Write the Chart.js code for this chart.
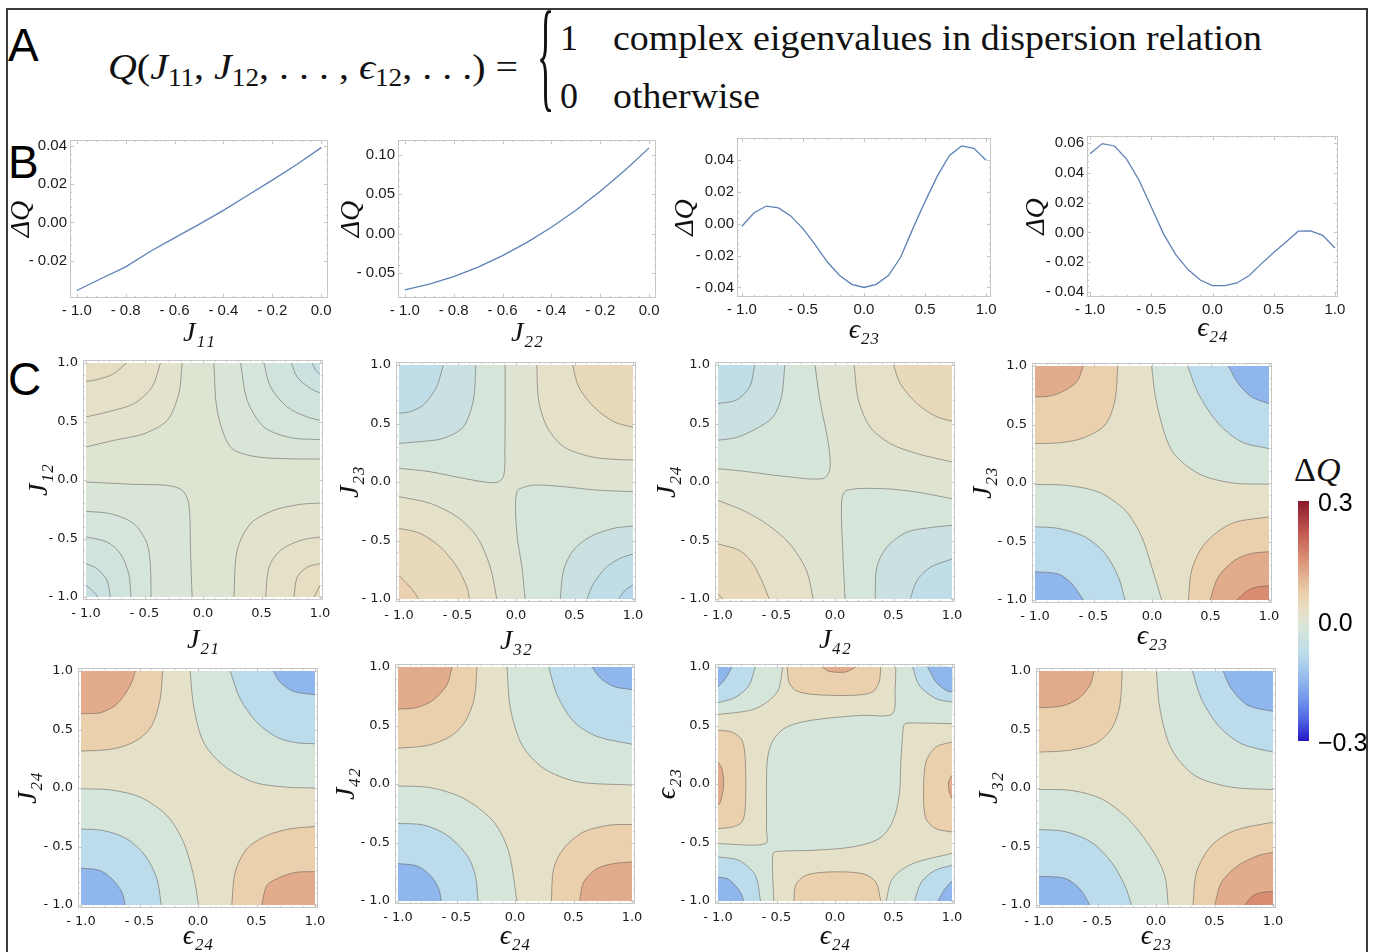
<!DOCTYPE html>
<html>
<head>
<meta charset="utf-8">
<title>Sensitivity of Q</title>
<script src="https://cdn.jsdelivr.net/npm/chart.js@4.4.1/dist/chart.umd.min.js"></script>
<style>
  html, body { margin: 0; padding: 0; background: #fff; }
  body { position: relative; width: 1378px; height: 952px; overflow: hidden; }
  canvas { position: absolute; }
  #frame { position: absolute; left: 6px; top: 8px; width: 1358px; height: 960px; border: 2px solid #3a3a3a; border-bottom: none; }
  .letter { position: absolute; font-family: "Liberation Sans", Arial, sans-serif; font-size: 46px; line-height: 1; color: #000; }
  .tex { position: absolute; font-family: "Liberation Serif", "DejaVu Serif", serif; font-size: 36px; line-height: 1; white-space: nowrap; color: #111; transform-origin: 0 0; }
  .tex sub { font-size: 0.68em; vertical-align: -0.28em; line-height: 0; }
</style>
</head>
<body>
<div id="frame"></div>
<div class="letter" style="left:8px;top:22px">A</div>
<div class="letter" style="left:8px;top:139px">B</div>
<div class="letter" style="left:8px;top:356px">C</div>
<div class="tex fit" data-w="410" style="left:108px;top:49px"><i>Q</i>(<i>J</i><sub>11</sub>, <i>J</i><sub>12</sub>, . . . , <i>ϵ</i><sub>12</sub>, . . .) =</div>
<div class="tex" style="left:537px;top:-6px;transform:scaleY(3.4)">{</div>
<div class="tex" style="left:560px;top:20px">1</div>
<div class="tex fit" data-w="649" style="left:613px;top:20px">complex eigenvalues in dispersion relation</div>
<div class="tex" style="left:560px;top:78px">0</div>
<div class="tex fit" data-w="147" style="left:613px;top:78px">otherwise</div>
<div class="tex" style="left:1294px;top:453px;font-size:34px">Δ<i>Q</i></div>

<script>
// ---------------- data: row B (one-parameter sweeps) ----------------
const J_HALF = [-1.0, -0.9, -0.8, -0.7, -0.6, -0.5, -0.4, -0.3, -0.2, -0.1, 0.0];
const EPS_FULL = [-1.0, -0.9, -0.8, -0.7, -0.6, -0.5, -0.4, -0.3, -0.2, -0.1, 0.0,
                  0.1, 0.2, 0.3, 0.4, 0.5, 0.6, 0.7, 0.8, 0.9, 1.0];
const DQ_J11 = [-0.0356, -0.0293, -0.0232, -0.0152, -0.0081, -0.0010, 0.0063, 0.0142, 0.0221, 0.0303, 0.0391];
const DQ_J22 = [-0.0716, -0.0643, -0.0546, -0.0425, -0.0280, -0.0111, 0.0081, 0.0297, 0.0538, 0.0802, 0.1090];
const DQ_E23 = [-0.0015, 0.0070, 0.0112, 0.0100, 0.0050, -0.0030, -0.0130, -0.0240, -0.0325, -0.0380, -0.0400,
                -0.0380, -0.0325, -0.0210, -0.0030, 0.0140, 0.0300, 0.0430, 0.0490, 0.0475, 0.0400];
const DQ_E24 = [0.0527, 0.0596, 0.0580, 0.0490, 0.0350, 0.0170, -0.0010, -0.0150, -0.0250, -0.0320, -0.0358,
                -0.0358, -0.0340, -0.0290, -0.0210, -0.0135, -0.0065, 0.0008, 0.0010, -0.0020, -0.0105];

const XTICKS_HALF = [-1.0, -0.8, -0.6, -0.4, -0.2, 0.0];
const XTICKS_FULL = [-1.0, -0.5, 0.0, 0.5, 1.0];
const YTICKS_J11 = [-0.02, 0.0, 0.02, 0.04];
const YTICKS_J22 = [-0.05, 0.0, 0.05, 0.10];
const YTICKS_E23 = [-0.04, -0.02, 0.0, 0.02, 0.04];
const YTICKS_E24 = [-0.04, -0.02, 0.0, 0.02, 0.04, 0.06];
const C_TICKS = [-1.0, -0.5, 0.0, 0.5, 1.0];
const CBAR_TICKS = [-0.3, 0.0, 0.3];

// ---------------- data: row C (contour lines) ----------------
// v = ΔQ level of the area on the corner / inner side of the contour
const C1_BASE = 0.003;
const C1_REGIONS = [
  {v: 0.012, corner: 'tl', pts: [[-1,0.282],[-0.763,0.339],[-0.506,0.395],[-0.307,0.509],[-0.207,0.737],[-0.178,1]]},
  {v: 0.022, corner: 'tl', pts: [[-1,0.539],[-0.82,0.581],[-0.592,0.652],[-0.435,0.795],[-0.364,1]]},
  {v: 0.032, corner: 'tl', pts: [[-1,0.843],[-0.907,0.857],[-0.764,0.908],[-0.655,1]]},
  {v: -0.012, corner: 'tr', pts: [[0.093,1],[0.121,0.595],[0.235,0.282],[0.435,0.202],[0.72,0.182],[1,0.179]]},
  {v: -0.022, corner: 'tr', pts: [[0.321,1],[0.378,0.681],[0.521,0.453],[0.749,0.362],[1,0.345]]},
  {v: -0.032, corner: 'tr', pts: [[0.521,1],[0.578,0.795],[0.72,0.624],[0.892,0.538],[1,0.51]]},
  {v: -0.042, corner: 'tr', pts: [[0.755,1],[0.806,0.88],[0.92,0.781],[1,0.744]]},
  {v: -0.052, corner: 'tr', pts: [[0.934,1],[0.963,0.937],[1,0.903]]},
  {v: -0.012, corner: 'bl', pts: [[-1,-0.017],[-0.592,-0.037],[-0.307,-0.046],[-0.178,-0.088],[-0.121,-0.202],[-0.107,-0.601],[-0.093,-1]]},
  {v: -0.022, corner: 'bl', pts: [[-1,-0.268],[-0.792,-0.288],[-0.592,-0.373],[-0.478,-0.544],[-0.449,-0.744],[-0.444,-1]]},
  {v: -0.032, corner: 'bl', pts: [[-1,-0.487],[-0.82,-0.53],[-0.706,-0.63],[-0.635,-0.801],[-0.615,-1]]},
  {v: -0.042, corner: 'bl', pts: [[-1,-0.715],[-0.906,-0.758],[-0.82,-0.858],[-0.792,-1]]},
  {v: -0.052, corner: 'bl', pts: [[-1,-0.9],[-0.934,-0.957],[-0.9,-1]]},
  {v: 0.012, corner: 'br', pts: [[0.264,-1],[0.292,-0.601],[0.407,-0.373],[0.606,-0.259],[0.834,-0.208],[1,-0.197]]},
  {v: 0.022, corner: 'br', pts: [[0.535,-1],[0.564,-0.744],[0.663,-0.601],[0.834,-0.516],[1,-0.487]]},
  {v: 0.032, corner: 'br', pts: [[0.777,-1],[0.806,-0.829],[0.892,-0.744],[1,-0.715]]},
  {v: 0.042, corner: 'br', pts: [[0.949,-1],[1,-0.9]]}
];

const C2_BASE = 0.005;
const C2_REGIONS = [
  {v: -0.02, corner: 'tl', pts: [[-1,0.117],[-0.735,0.088],[-0.449,0.031],[-0.178,-0.006],[-0.107,0.046],[-0.095,0.274],[-0.093,1]]},
  {v: -0.045, corner: 'tl', pts: [[-1,0.33],[-0.82,0.345],[-0.621,0.373],[-0.449,0.473],[-0.364,0.701],[-0.344,1]]},
  {v: -0.07, corner: 'tl', pts: [[-1,0.587],[-0.906,0.601],[-0.792,0.658],[-0.678,0.815],[-0.621,1]]},
  {v: -0.02, corner: 'br', pts: [[0.078,-1],[0.05,-0.724],[0.007,-0.439],[0.007,-0.083],[0.107,-0.034],[0.207,-0.026],[0.407,-0.04],[0.692,-0.069],[1,-0.083]]},
  {v: -0.045, corner: 'br', pts: [[0.378,-1],[0.407,-0.752],[0.492,-0.581],[0.635,-0.467],[0.834,-0.396],[1,-0.376]]},
  {v: -0.07, corner: 'br', pts: [[0.606,-1],[0.663,-0.866],[0.777,-0.724],[0.892,-0.652],[1,-0.615]]},
  {v: -0.09, corner: 'br', pts: [[0.877,-1],[0.934,-0.923],[1,-0.88]]},
  {v: 0.02, corner: 'tr', pts: [[0.178,1],[0.193,0.701],[0.264,0.473],[0.407,0.302],[0.635,0.217],[0.834,0.194],[1,0.188]]},
  {v: 0.045, corner: 'tr', pts: [[0.484,1],[0.535,0.815],[0.663,0.644],[0.834,0.516],[1,0.467]]},
  {v: 0.02, corner: 'bl', pts: [[-1,-0.125],[-0.735,-0.182],[-0.506,-0.296],[-0.335,-0.467],[-0.221,-0.724],[-0.164,-1]]},
  {v: 0.045, corner: 'bl', pts: [[-1,-0.396],[-0.82,-0.439],[-0.649,-0.553],[-0.506,-0.724],[-0.421,-0.895],[-0.398,-1]]},
  {v: 0.065, corner: 'bl', pts: [[-1,-0.801],[-0.934,-0.866],[-0.863,-0.952],[-0.835,-1]]}
];

const C3_BASE = 0.005;
const C3_REGIONS = [
  {v: -0.02, corner: 'tl', pts: [[-1,0.114],[-0.729,0.086],[-0.443,0.049],[-0.1,0.029],[-0.043,0.114],[-0.057,0.329],[-0.129,0.7],[-0.171,1]]},
  {v: -0.045, corner: 'tl', pts: [[-1,0.357],[-0.843,0.38],[-0.671,0.457],[-0.529,0.557],[-0.457,0.729],[-0.429,1]]},
  {v: -0.07, corner: 'tl', pts: [[-1,0.671],[-0.843,0.7],[-0.729,0.814],[-0.686,1]]},
  {v: -0.02, corner: 'br', pts: [[0.086,-1],[0.066,-0.586],[0.057,-0.157],[0.1,-0.071],[0.414,-0.057],[0.7,-0.086],[1,-0.143]]},
  {v: -0.045, corner: 'br', pts: [[0.343,-1],[0.357,-0.729],[0.443,-0.557],[0.614,-0.429],[0.843,-0.386],[1,-0.371]]},
  {v: -0.07, corner: 'br', pts: [[0.643,-1],[0.7,-0.843],[0.814,-0.729],[1,-0.657]]},
  {v: 0.02, corner: 'tr', pts: [[0.163,1],[0.2,0.7],[0.3,0.471],[0.471,0.329],[0.7,0.243],[1,0.171]]},
  {v: 0.045, corner: 'tr', pts: [[0.5,1],[0.557,0.843],[0.7,0.671],[0.871,0.557],[1,0.52]]},
  {v: 0.02, corner: 'bl', pts: [[-1,-0.157],[-0.786,-0.243],[-0.586,-0.357],[-0.386,-0.529],[-0.243,-0.757],[-0.186,-1]]},
  {v: 0.045, corner: 'bl', pts: [[-1,-0.529],[-0.814,-0.586],[-0.7,-0.7],[-0.614,-0.871],[-0.563,-1]]},
  {v: 0.065, corner: 'bl', pts: [[-1,-0.957],[-0.957,-1]]}
];

const C4_BASE = 0.02;
const C4_REGIONS = [
  {v: 0.07, corner: 'tl', pts: [[-1,0.337],[-0.801,0.343],[-0.601,0.38],[-0.402,0.494],[-0.316,0.707],[-0.293,1]]},
  {v: 0.12, corner: 'tl', pts: [[-1,0.735],[-0.886,0.741],[-0.772,0.778],[-0.644,0.863],[-0.587,1]]},
  {v: -0.02, corner: 'tr', pts: [[-0.003,1],[0.04,0.679],[0.168,0.28],[0.396,0.081],[0.681,0.001],[1,-0.01]]},
  {v: -0.08, corner: 'tr', pts: [[0.305,1],[0.396,0.764],[0.567,0.508],[0.766,0.351],[1,0.294]]},
  {v: -0.15, corner: 'tr', pts: [[0.652,1],[0.738,0.849],[0.852,0.735],[1,0.678]]},
  {v: -0.02, corner: 'bl', pts: [[-1,-0.013],[-0.744,-0.019],[-0.459,-0.076],[-0.231,-0.232],[-0.088,-0.46],[-0.003,-0.716],[0.083,-1]]},
  {v: -0.08, corner: 'bl', pts: [[-1,-0.374],[-0.801,-0.388],[-0.573,-0.46],[-0.402,-0.602],[-0.288,-0.801],[-0.231,-1]]},
  {v: -0.15, corner: 'bl', pts: [[-1,-0.758],[-0.801,-0.778],[-0.687,-0.858],[-0.587,-1]]},
  {v: 0.07, corner: 'br', pts: [[0.311,-1],[0.339,-0.744],[0.453,-0.516],[0.681,-0.346],[1,-0.289]]},
  {v: 0.12, corner: 'br', pts: [[0.496,-1],[0.567,-0.801],[0.709,-0.659],[0.852,-0.602],[1,-0.587]]},
  {v: 0.16, corner: 'br', pts: [[0.724,-1],[0.823,-0.915],[0.909,-0.886],[1,-0.88]]}
];

const C5_BASE = 0.02;
const C5_REGIONS = [
  {v: 0.07, corner: 'tl', pts: [[-1,0.315],[-0.721,0.335],[-0.522,0.407],[-0.394,0.535],[-0.323,0.763],[-0.303,1]]},
  {v: 0.12, corner: 'tl', pts: [[-1,0.635],[-0.835,0.643],[-0.707,0.706],[-0.622,0.806],[-0.565,0.906],[-0.536,1]]},
  {v: -0.02, corner: 'tr', pts: [[-0.067,1],[-0.038,0.706],[0.047,0.392],[0.218,0.193],[0.474,0.05],[0.758,0.007],[1,0]]},
  {v: -0.08, corner: 'tr', pts: [[0.275,1],[0.36,0.763],[0.502,0.563],[0.673,0.435],[0.844,0.387],[1,0.378]]},
  {v: -0.15, corner: 'tr', pts: [[0.644,1],[0.701,0.906],[0.815,0.826],[1,0.797]]},
  {v: -0.02, corner: 'bl', pts: [[-1,-0.007],[-0.75,-0.016],[-0.494,-0.078],[-0.266,-0.235],[-0.124,-0.463],[-0.038,-0.749],[0.004,-1]]},
  {v: -0.08, corner: 'bl', pts: [[-1,-0.35],[-0.807,-0.364],[-0.607,-0.435],[-0.451,-0.578],[-0.351,-0.777],[-0.314,-1]]},
  {v: -0.15, corner: 'bl', pts: [[-1,-0.684],[-0.835,-0.706],[-0.721,-0.792],[-0.65,-0.892],[-0.622,-1]]},
  {v: 0.07, corner: 'br', pts: [[0.289,-1],[0.317,-0.72],[0.417,-0.52],[0.588,-0.406],[0.787,-0.349],[1,-0.329]]},
  {v: 0.12, corner: 'br', pts: [[0.545,-1],[0.588,-0.834],[0.701,-0.763],[0.844,-0.72],[1,-0.715]]}
];

const C6_BASE = 0.02;
const C6_REGIONS = [
  {v: 0.07, corner: 'tl', pts: [[-1,0.306],[-0.752,0.329],[-0.553,0.406],[-0.425,0.534],[-0.348,0.734],[-0.325,1]]},
  {v: 0.12, corner: 'tl', pts: [[-1,0.64],[-0.838,0.654],[-0.695,0.72],[-0.581,0.849],[-0.538,1]]},
  {v: -0.02, corner: 'tr', pts: [[-0.068,1],[-0.04,0.649],[0.06,0.334],[0.245,0.134],[0.53,0.02],[1,-0.009]]},
  {v: -0.08, corner: 'tr', pts: [[0.288,1],[0.359,0.763],[0.501,0.534],[0.701,0.406],[1,0.34]]},
  {v: -0.15, corner: 'tr', pts: [[0.658,1],[0.729,0.906],[0.843,0.834],[1,0.806]]},
  {v: -0.02, corner: 'bl', pts: [[-1,-0.017],[-0.724,-0.031],[-0.439,-0.123],[-0.182,-0.323],[-0.054,-0.58],[0.017,-1]]},
  {v: -0.08, corner: 'bl', pts: [[-1,-0.337],[-0.781,-0.351],[-0.581,-0.437],[-0.41,-0.609],[-0.339,-0.78],[-0.316,-1]]},
  {v: -0.15, corner: 'bl', pts: [[-1,-0.68],[-0.838,-0.7],[-0.724,-0.78],[-0.652,-0.894],[-0.63,-1]]},
  {v: 0.07, corner: 'br', pts: [[0.311,-1],[0.33,-0.723],[0.416,-0.551],[0.587,-0.409],[0.815,-0.351],[1,-0.346]]},
  {v: 0.12, corner: 'br', pts: [[0.553,-1],[0.587,-0.837],[0.701,-0.723],[0.843,-0.68],[1,-0.666]]}
];

const C7_BASE = 0.02;
const C7_A = [[-1,-0.51],[-0.594,-0.51],[-0.586,-0.382],[-0.58,0.188],[-0.537,0.359],[-0.437,0.473],[-0.28,0.53],
              [-0.051,0.564],[0.234,0.587],[0.491,0.601],[0.514,0.815],[0.52,1]];
const C7_B = [[-0.523,-1],[-0.531,-0.595],[-0.48,-0.575],[-0.194,-0.567],[0.149,-0.538],[0.377,-0.467],[0.491,-0.325],
              [0.549,-0.097],[0.563,0.188],[0.583,0.473],[0.6,0.516],[0.72,0.521],[1,0.516]];
const C7_REGIONS = [
  {v: -0.02, pts: C7_A, band: C7_B},
  {pts: C7_B},
  {v: -0.02, corner: 'tl', pts: [[-1,0.593],[-0.68,0.644],[-0.494,0.786],[-0.446,1]]},
  {v: -0.02, corner: 'br', pts: [[0.437,-1],[0.491,-0.809],[0.663,-0.681],[1,-0.593]]},
  {v: -0.08, corner: 'tl', pts: [[-1,0.695],[-0.851,0.74],[-0.737,0.84],[-0.68,1]]},
  {v: -0.08, corner: 'tr', pts: [[0.663,1],[0.72,0.843],[0.863,0.729],[1,0.701]]},
  {v: -0.08, corner: 'bl', pts: [[-1,-0.624],[-0.823,-0.652],[-0.68,-0.781],[-0.637,-1]]},
  {v: -0.08, corner: 'br', pts: [[0.68,-1],[0.737,-0.84],[0.851,-0.74],[1,-0.695]]},
  {v: -0.15, corner: 'tl', pts: [[-1,0.829],[-0.937,0.9],[-0.88,1]]},
  {v: -0.15, corner: 'tr', pts: [[0.791,1],[0.863,0.872],[0.949,0.8],[1,0.786]]},
  {v: -0.15, corner: 'bl', pts: [[-1,-0.795],[-0.909,-0.815],[-0.809,-0.923],[-0.78,-1]]},
  {v: -0.15, corner: 'br', pts: [[0.88,-1],[0.937,-0.9],[1,-0.829]]},
  {v: 0.07, pts: [[-0.409,1],[-0.394,0.872],[-0.337,0.8],[-0.194,0.766],[0.149,0.758],[0.32,0.786],[0.377,0.872],[0.391,1]]},
  {v: 0.12, pts: [[-0.109,1],[-0.051,0.963],[0.091,0.957],[0.177,1]]},
  {v: 0.07, pts: [[-0.351,-1],[-0.337,-0.866],[-0.251,-0.781],[-0.051,-0.752],[0.234,-0.766],[0.349,-0.838],[0.391,-1]]},
  {v: 0.07, pts: [[-1,0.459],[-0.88,0.444],[-0.794,0.373],[-0.766,0.188],[-0.766,-0.182],[-0.794,-0.325],[-0.88,-0.368],[-1,-0.382]]},
  {v: 0.12, pts: [[-1,0.188],[-0.966,0.131],[-0.951,-0.011],[-0.98,-0.154],[-1,-0.182]]},
  {v: 0.07, pts: [[1,0.359],[0.863,0.316],[0.777,0.188],[0.757,-0.097],[0.777,-0.296],[0.863,-0.382],[1,-0.41]]},
  {v: 0.12, pts: [[1,0.074],[0.971,0.017],[0.977,-0.068],[1,-0.125]]}
];

const C8_BASE = 0.02;
const C8_REGIONS = [
  {v: 0.07, corner: 'tl', pts: [[-1,0.307],[-0.75,0.321],[-0.522,0.378],[-0.38,0.506],[-0.309,0.706],[-0.289,1]]},
  {v: 0.12, corner: 'tl', pts: [[-1,0.686],[-0.807,0.7],[-0.664,0.763],[-0.565,0.877],[-0.528,1]]},
  {v: -0.02, corner: 'tr', pts: [[0.004,1],[0.033,0.678],[0.132,0.335],[0.331,0.107],[0.644,0.007],[1,-0.013]]},
  {v: -0.08, corner: 'tr', pts: [[0.311,1],[0.388,0.763],[0.531,0.535],[0.73,0.378],[1,0.307]]},
  {v: -0.15, corner: 'tr', pts: [[0.573,1],[0.644,0.849],[0.786,0.706],[1,0.655]]},
  {v: -0.02, corner: 'bl', pts: [[-1,-0.013],[-0.721,-0.021],[-0.465,-0.093],[-0.238,-0.264],[-0.038,-0.52],[0.075,-0.749],[0.104,-1]]},
  {v: -0.08, corner: 'bl', pts: [[-1,-0.355],[-0.778,-0.372],[-0.551,-0.464],[-0.38,-0.635],[-0.266,-0.834],[-0.209,-1]]},
  {v: -0.15, corner: 'bl', pts: [[-1,-0.755],[-0.778,-0.772],[-0.65,-0.863],[-0.565,-1]]},
  {v: 0.07, corner: 'br', pts: [[0.317,-1],[0.346,-0.72],[0.474,-0.492],[0.673,-0.363],[1,-0.292]]},
  {v: 0.12, corner: 'br', pts: [[0.502,-1],[0.559,-0.806],[0.701,-0.663],[0.872,-0.578],[1,-0.549]]},
  {v: 0.16, corner: 'br', pts: [[0.758,-1],[0.829,-0.92],[0.915,-0.891],[1,-0.885]]}
];

// colour scale of the ΔQ legend
const CMAP_V = [-0.3, -0.25, -0.2, -0.15, -0.08, -0.02, 0.0, 0.02, 0.07, 0.12, 0.16, 0.22, 0.3];
const CMAP_C = ['#2516c6', '#4d62e2', '#6e93ea', '#90b6ee', '#bcdceb', '#d6e5da', '#dde4d3',
                '#e5e1c9', '#ebd0ad', '#e2ab8b', '#d98c72', '#c25a50', '#8b1a2c'];

// ---------------- helpers ----------------
const TICK_FONT_B = {family: '"Liberation Sans", Arial, sans-serif', size: 15};
const TICK_FONT_C = {family: '"DejaVu Sans", sans-serif', size: 13};
const TITLE_FONT = {family: '"Liberation Serif", "DejaVu Serif", serif', size: 28, style: 'italic', lineHeight: 1};
const LINE_COLOR = 'rgba(95,90,85,0.6)';
const SMOOTH = 0.3;
const CORNER = {tl: [[-1, 1]], tr: [[1, 1]], bl: [[-1, -1]], br: [[1, -1]]};
const DOMAIN = [[-1, -1], [-1, 1], [1, 1], [1, -1]];

function hexRgb(h) {
  return [parseInt(h.slice(1, 3), 16), parseInt(h.slice(3, 5), 16), parseInt(h.slice(5, 7), 16)];
}

function cmap(v) {
  if (v <= CMAP_V[0]) return CMAP_C[0];
  for (let i = 1; i < CMAP_V.length; i++) {
    if (v <= CMAP_V[i]) {
      const t = (v - CMAP_V[i - 1]) / (CMAP_V[i] - CMAP_V[i - 1]);
      const a = hexRgb(CMAP_C[i - 1]), b = hexRgb(CMAP_C[i]);
      return 'rgb(' + a.map((c, k) => Math.round(c + (b[k] - c) * t)).join(',') + ')';
    }
  }
  return CMAP_C[CMAP_C.length - 1];
}

function fmt(v, digits) {
  const s = Math.abs(v).toFixed(digits);
  return v < -1e-9 ? '- ' + s : s;
}

const xy = pts => pts.map(p => ({x: p[0], y: p[1]}));

// light grey Mathematica-like frame with inward ticks
const framePlugin = {
  id: 'frame',
  afterDatasetsDraw(chart) {
    const {ctx, chartArea: a, scales} = chart;
    ctx.save();
    ctx.strokeStyle = '#c6c6c6';
    ctx.lineWidth = 1;
    ctx.strokeRect(Math.round(a.left) + 0.5, Math.round(a.top) + 0.5,
                   Math.round(a.right - a.left) - 1, Math.round(a.bottom - a.top) - 1);
    ctx.beginPath();
    ['x', 'y'].forEach(id => {
      const s = scales[id];
      const vals = s.ticks.map(t => t.value);
      vals.forEach((v, i) => {
        const marks = [[v, 4]];
        if (i < vals.length - 1) {
          for (let k = 1; k < 5; k++) marks.push([v + (vals[i + 1] - v) * k / 5, 2]);
        }
        marks.forEach(([m, len]) => {
          const p = Math.round(s.getPixelForValue(m)) + 0.5;
          if (id === 'x') {
            ctx.moveTo(p, a.bottom); ctx.lineTo(p, a.bottom - len);
            ctx.moveTo(p, a.top); ctx.lineTo(p, a.top + len);
          } else {
            ctx.moveTo(a.left, p); ctx.lineTo(a.left + len, p);
            ctx.moveTo(a.right, p); ctx.lineTo(a.right - len, p);
          }
        });
      });
    });
    ctx.stroke();
    ctx.restore();
  }
};

function makeCanvas(left, top, w, h) {
  const cv = document.createElement('canvas');
  cv.width = Math.round(w);
  cv.height = Math.round(h);
  cv.style.left = Math.round(left) + 'px';
  cv.style.top = Math.round(top) + 'px';
  document.body.appendChild(cv);
  return cv;
}

function axis(which, range, ticks, digits, font, labelPad, size, title) {
  return {
    type: 'linear', min: range[0], max: range[1],
    grid: {display: false, drawTicks: false},
    border: {display: false},
    afterBuildTicks: s => { s.ticks = ticks.map(v => ({value: v})); },
    afterFit: s => { if (which === 'x') s.height = size; else s.width = size; },
    ticks: {font: font, color: '#1a1a1a', padding: labelPad, autoSkip: false, maxRotation: 0,
            callback: v => fmt(v, digits)},
    title: {display: true, text: title, font: TITLE_FONT, color: '#111', padding: {top: 2, bottom: 2}}
  };
}

// area = [left, top, width, height] of the plot frame in page pixels
function panel(cfg) {
  const [L, T, W, H] = cfg.area;
  const half = TITLE_FONT.size / 2;
  const padL = L - (cfg.yTitleX - half - 2);
  const padB = (cfg.xTitleY + half + 2) - (T + H);
  const padT = 18, padR = 22;   // room for the end tick labels, so the plot area is not shifted
  const cv = makeCanvas(L - padL, T - padT, W + padL + padR, H + padT + padB);
  return new Chart(cv, {
    type: 'line',
    data: {datasets: cfg.datasets},
    options: {
      responsive: false, animation: false, events: [], devicePixelRatio: 1,
      layout: {padding: {left: 0, top: padT, right: padR, bottom: 0}},
      plugins: {legend: {display: false}, tooltip: {enabled: false}},
      scales: {
        x: axis('x', cfg.xRange, cfg.xTicks, cfg.xDigits, cfg.tickFont, cfg.xLabelPad, padB, cfg.xTitle),
        y: axis('y', cfg.yRange, cfg.yTicks, cfg.yDigits, cfg.tickFont, cfg.yLabelPad, padL, cfg.yTitle)
      }
    },
    plugins: [framePlugin]
  });
}

function sweepDataset(xs, ys) {
  return [{data: xs.map((x, i) => ({x: x, y: ys[i]})), borderColor: '#5e81b5', borderWidth: 1.3,
           pointRadius: 0, tension: 0, fill: false}];
}

// a fill outline = contour (smoothed like the stroke) + straight run along the plot edge.
// the contour end is repeated so the spline meets the edge exactly where the stroke does.
function outline(r) {
  const last = r.pts[r.pts.length - 1];
  if (r.band) {
    const back = r.band.slice().reverse();
    return r.pts.concat([last, [1, 1], back[0]], back, [back[back.length - 1], [-1, -1]]);
  }
  if (r.corner) return r.pts.concat([last], CORNER[r.corner]);
  return r.pts;
}

function contourDatasets(base, regions) {
  const fills = [{data: xy(DOMAIN), fill: 'shape', backgroundColor: cmap(base), borderWidth: 0, pointRadius: 0, tension: 0}];
  const lines = [];
  regions.forEach(r => {
    if (r.v !== undefined) {
      fills.push({data: xy(outline(r)), fill: 'shape', backgroundColor: cmap(r.v),
                  borderWidth: 0, pointRadius: 0, tension: SMOOTH});
    }
    lines.push({data: xy(r.pts), fill: false, borderColor: LINE_COLOR, borderWidth: 0.9,
                pointRadius: 0, tension: SMOOTH});
  });
  return fills.concat(lines).reverse();   // first dataset is painted last
}

// ---------------- row B ----------------
const B_PANELS = [
  {area: [70, 140, 258, 158], xs: J_HALF, ys: DQ_J11, xRange: [-1.028, 0.028], yRange: [-0.0395, 0.0431],
   xTicks: XTICKS_HALF, yTicks: YTICKS_J11, xTitle: 'J₁₁', xTitleY: 334, yTitleX: 22},
  {area: [398, 140, 258, 158], xs: J_HALF, ys: DQ_J22, xRange: [-1.028, 0.028], yRange: [-0.0818, 0.119],
   xTicks: XTICKS_HALF, yTicks: YTICKS_J22, xTitle: 'J₂₂', xTitleY: 334, yTitleX: 352},
  {area: [737, 138, 254, 159], xs: EPS_FULL, ys: DQ_E23, xRange: [-1.04, 1.04], yRange: [-0.046, 0.054],
   xTicks: XTICKS_FULL, yTicks: YTICKS_E23, xTitle: 'ϵ₂₃', xTitleY: 331, yTitleX: 686},
  {area: [1087, 136, 251, 161], xs: EPS_FULL, ys: DQ_E24, xRange: [-1.025, 1.025], yRange: [-0.0434, 0.0647],
   xTicks: XTICKS_FULL, yTicks: YTICKS_E24, xTitle: 'ϵ₂₄', xTitleY: 329, yTitleX: 1037}
];

B_PANELS.forEach(p => panel({
  area: p.area, xRange: p.xRange, yRange: p.yRange, xTicks: p.xTicks, yTicks: p.yTicks,
  xDigits: 1, yDigits: 2, tickFont: TICK_FONT_B, xLabelPad: 4, yLabelPad: 3,
  xTitle: p.xTitle, yTitle: 'ΔQ', xTitleY: p.xTitleY, yTitleX: p.yTitleX,
  datasets: sweepDataset(p.xs, p.ys)
}));

// ---------------- row C ----------------
const C_PANELS = [
  {box: [86, 363], xTitle: 'J₂₁', yTitle: 'J₁₂', xTitleY: 641, yTitleX: 40, base: C1_BASE, regions: C1_REGIONS},
  {box: [399, 365], xTitle: 'J₃₂', yTitle: 'J₂₃', xTitleY: 642, yTitleX: 351, base: C2_BASE, regions: C2_REGIONS},
  {box: [718, 365], xTitle: 'J₄₂', yTitle: 'J₂₄', xTitleY: 641, yTitleX: 668, base: C3_BASE, regions: C3_REGIONS},
  {box: [1035, 366], xTitle: 'ϵ₂₃', yTitle: 'J₂₃', xTitleY: 637, yTitleX: 984, base: C4_BASE, regions: C4_REGIONS},
  {box: [81, 671], xTitle: 'ϵ₂₄', yTitle: 'J₂₄', xTitleY: 937, yTitleX: 29, base: C5_BASE, regions: C5_REGIONS},
  {box: [398, 667], xTitle: 'ϵ₂₄', yTitle: 'J₄₂', xTitleY: 937, yTitleX: 347, base: C6_BASE, regions: C6_REGIONS},
  {box: [718, 667], xTitle: 'ϵ₂₄', yTitle: 'ϵ₂₃', xTitleY: 937, yTitleX: 668, base: C7_BASE, regions: C7_REGIONS},
  {box: [1039, 671], xTitle: 'ϵ₂₃', yTitle: 'J₃₂', xTitleY: 937, yTitleX: 990, base: C8_BASE, regions: C8_REGIONS}
];
const C_SIZE = 234, C_GAP = 3;
const C_LIM = 1 + C_GAP / (C_SIZE / 2);

C_PANELS.forEach(p => panel({
  area: [p.box[0] - C_GAP, p.box[1] - C_GAP, C_SIZE + 2 * C_GAP, C_SIZE + 2 * C_GAP],
  xRange: [-C_LIM, C_LIM], yRange: [-C_LIM, C_LIM], xTicks: C_TICKS, yTicks: C_TICKS,
  xDigits: 1, yDigits: 1, tickFont: TICK_FONT_C, xLabelPad: 6, yLabelPad: 5,
  xTitle: p.xTitle, yTitle: p.yTitle, xTitleY: p.xTitleY, yTitleX: p.yTitleX,
  datasets: contourDatasets(p.base, p.regions)
}));

// ---------------- colour bar ----------------
function barGradient(chart) {
  const a = chart.chartArea;
  if (!a) return CMAP_C[6];
  const g = chart.ctx.createLinearGradient(0, a.bottom, 0, a.top);
  const lo = CBAR_TICKS[0], hi = CBAR_TICKS[CBAR_TICKS.length - 1];
  CMAP_V.forEach((v, i) => g.addColorStop((v - lo) / (hi - lo), CMAP_C[i]));
  return g;
}

const CB_PAD = 26;
const cbCanvas = makeCanvas(1298, 501 - CB_PAD, 91, 240 + 2 * CB_PAD);
new Chart(cbCanvas, {
  type: 'bar',
  data: {
    labels: ['ΔQ'],
    datasets: [{data: [[CBAR_TICKS[0], CBAR_TICKS[CBAR_TICKS.length - 1]]],
                backgroundColor: ctx => barGradient(ctx.chart), borderWidth: 0,
                barPercentage: 1, categoryPercentage: 1}]
  },
  options: {
    responsive: false, animation: false, events: [], devicePixelRatio: 1,
    layout: {padding: {top: CB_PAD, bottom: CB_PAD, left: 0, right: 0}},
    plugins: {legend: {display: false}, tooltip: {enabled: false}},
    scales: {
      x: {display: false},
      y: {
        position: 'right', min: CBAR_TICKS[0], max: CBAR_TICKS[CBAR_TICKS.length - 1],
        grid: {display: false, drawTicks: false}, border: {display: false},
        afterBuildTicks: s => { s.ticks = CBAR_TICKS.map(v => ({value: v})); },
        afterFit: s => { s.width = 80; },
        ticks: {padding: 9, labelOffset: 3, color: '#000',
                font: {family: '"Liberation Sans", Arial, sans-serif', size: 25},
                callback: v => (v < 0 ? '\u2212' : '') + Math.abs(v).toFixed(1)}
      }
    }
  }
});

// stretch the formula pieces to the widths they take in the figure
document.querySelectorAll('.fit').forEach(el => {
  const w = el.getBoundingClientRect().width;
  el.style.transform = 'scaleX(' + (parseFloat(el.dataset.w) / w) + ')';
});
</script>
</body>
</html>
